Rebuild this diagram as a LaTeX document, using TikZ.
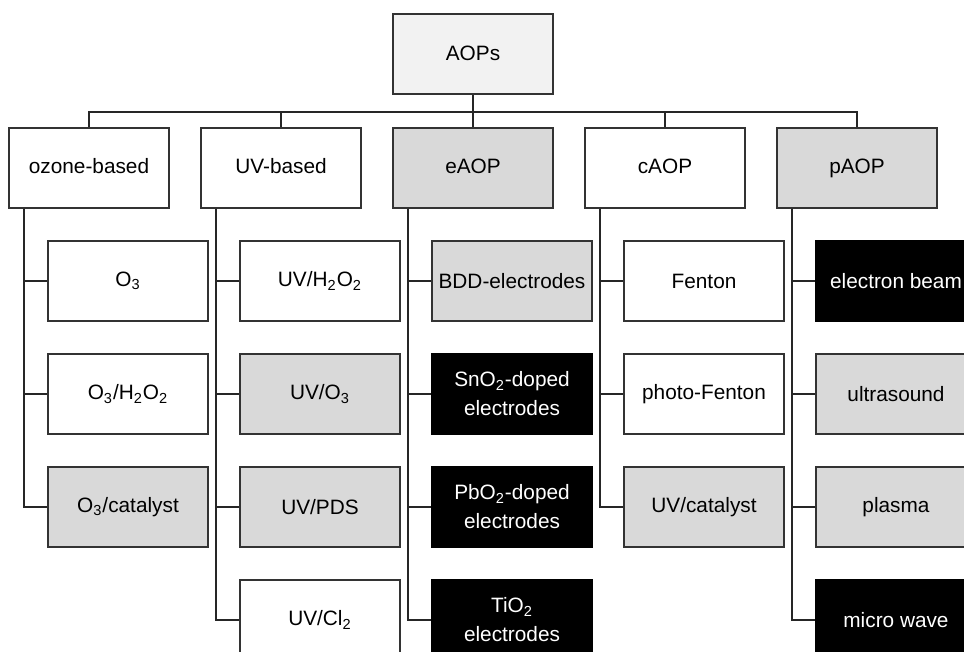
\documentclass[tikz,border=0pt]{standalone}
\usepackage{fontspec}
\setmainfont{Liberation Sans}
\usetikzlibrary{positioning}

\begin{document}
\begin{tikzpicture}[x=1pt, y=1pt, w/.style={draw=black!80, line width=1pt, fill=white, minimum width=80pt, minimum height=40pt, align=center, inner sep=1pt, font=\fontsize{10.4}{14.5}\selectfont}, g/.style={w, fill=black!15}, b/.style={w, draw=black, fill=black, text=white}, h/.style={text height=1.5ex, text depth=.4ex}, l/.style={line width=1pt, black!85}, node distance=15.5pt and 15pt]
	        \useasboundingbox (0,0) rectangle (482,-326);
	        \clip (0,0) rectangle (482,-326);
	        \node (aops) [w, h, fill=black!5] at (236.5,-27.25) {AOPs};
	        \node (eaop) [g, h, below=15.75pt of aops] {eAOP};
	        \node (uv) [w, h, left=of eaop] {UV-based};
	        \node (oz) [w, h, left=of uv] {ozone-based};
	        \node (caop) [w, h, right=of eaop] {cAOP};
	        \node (paop) [g, h, right=of caop] {pAOP};
	        % ozone-based
	        \node (oz1) [w, below right=15.5pt and 19.5pt of oz.south west] {O\textsubscript{3}};
	        \node (oz2) [w, below=of oz1] {O\textsubscript{3}/H\textsubscript{2}O\textsubscript{2}};
	        \node (oz3) [g, below=of oz2] {O\textsubscript{3}/catalyst};
	        % UV-based
	        \node (uv1) [w, below right=15.5pt and 19.5pt of uv.south west] {UV/H\textsubscript{2}O\textsubscript{2}};
	        \node (uv2) [g, below=of uv1] {UV/O\textsubscript{3}};
	        \node (uv3) [g, below=of uv2] {UV/PDS};
	        \node (uv4) [w, below=of uv3] {UV/Cl\textsubscript{2}};
	        % eAOP
	        \node (e1) [g, below right=15.5pt and 19.5pt of eaop.south west] {BDD-electrodes};
	        \node (e2) [b, below=of e1] {SnO\textsubscript{2}-doped\\electrodes};
	        \node (e3) [b, below=of e2] {PbO\textsubscript{2}-doped\\electrodes};
	        \node (e4) [b, below=of e3] {TiO\textsubscript{2}\\electrodes};
	        % cAOP
	        \node (c1) [w, below right=15.5pt and 19.5pt of caop.south west] {Fenton};
	        \node (c2) [w, below=of c1] {photo-Fenton};
	        \node (c3) [g, below=of c2] {UV/catalyst};
	        % pAOP
	        \node (p1) [b, below right=15.5pt and 19.5pt of paop.south west] {electron beam};
	        \node (p2) [g, below=of p1] {ultrasound};
	        \node (p3) [g, below=of p2] {plasma};
	        \node (p4) [b, below=of p3] {micro wave};
	        \foreach \n in {oz,uv,eaop,caop,paop}
	          \draw[l] (aops.south) -- ++(0,-8.5) -| (\n.north);
	        \foreach \p/\n in {oz/oz1,oz/oz2,oz/oz3,uv/uv1,uv/uv2,uv/uv3,uv/uv4,eaop/e1,eaop/e2,eaop/e3,eaop/e4,caop/c1,caop/c2,caop/c3,paop/p1,paop/p2,paop/p3,paop/p4}
	          \draw[l] (\p.south west) ++(8,0) |- (\n.west);
	      \end{tikzpicture}
\end{document}
